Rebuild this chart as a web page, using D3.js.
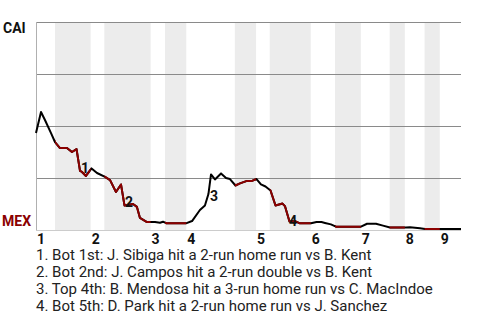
<!DOCTYPE html>
<html>
<head>
<meta charset="utf-8">
<script src="https://cdn.jsdelivr.net/npm/d3@7"></script>
<style>
  body { margin: 0; background: #fff; }
  svg { display: block; font-family: Roboto, "Noto Sans", sans-serif; }
</style>
</head>
<body>
<script>
const w = 480;
const h = 320;

// x = pitch count into the game, y = CAI win probability (%)
const pitchNo = [0, 3.3, 5.9, 9.9, 12.5, 15.8, 20.4, 23.7, 26.7, 29, 30.3, 32.9, 36.6, 40.2,
  45.5, 48.8, 52.7, 56, 58.3, 63.9, 66.5, 68.5, 73.1, 78.4, 81.7, 83.7, 86, 98.8,
  102.8, 108, 111.3, 113.6, 115.3, 117.9, 121.9, 125.2, 127.8, 131.4, 134.4, 139,
  142.3, 145.3, 148.2, 151.2, 154.5, 157.8, 162.4, 164, 167, 170.6, 173.9, 181.2,
  184.8, 188.1, 190.4, 194.3, 197.6, 214.1, 218.1, 224, 228.6, 233.2, 243.7, 246.4,
  253, 256.3, 266.8, 280];
const caiWinPct = [46.6, 56.7, 52.9, 46.6, 42.3, 39.4, 39.4, 37.5, 38.9, 28.4, 27.9, 26, 29.6, 27.4,
  25.5, 24, 18.3, 21.9, 11.8, 12.5, 11.1, 5.8, 3.8, 3.8, 3.5, 4.0, 3.2, 3.2,
  4.3, 9.6, 11.8, 17.3, 26.7, 24.3, 27.2, 25, 24.5, 21.4, 22.4, 23.6,
  23.6, 24.5, 21.9, 20.9, 19, 11.8, 12.7, 11.5, 4.1, 4.3, 3.2, 3.2,
  3.8, 3.8, 3.4, 2.7, 1.6, 1.6, 3.0, 3.0, 2.1, 1.2, 1.2, 1.3,
  0.8, 0.5, 0.5, 0.5];

// first pitch of each half inning (top 1st, bot 1st, top 2nd, ...)
const halfStarts = [0, 12.5, 36, 45, 75.5, 85, 99, 131, 145, 154, 181, 197, 214, 233, 243, 256, 266];
const gameEnd = 280;
const innings = ["1", "2", "3", "4", "5", "6", "7", "8", "9"];
const gridPct = [25, 50, 75, 100];

// key plays: label, position in chart units
const noteIds = ["1", "2", "3", "4"];
const notePitch = [29.6, 58.6, 114.6, 166.6];
const notePct = [27.4, 11.1, 13.9, 1.9];
const noteText = [
  "1. Bot 1st: J. Sibiga hit a 2-run home run vs B. Kent",
  "2. Bot 2nd: J. Campos hit a 2-run double vs B. Kent",
  "3. Top 4th: B. Mendosa hit a 3-run home run vs C. MacIndoe",
  "4. Bot 5th: D. Park hit a 2-run home run vs J. Sanchez"
];

const red = "#8b0000";
const plotL = 36, plotR = 461, plotT = 22, plotB = 230;

const svg = d3.select("body").append("svg").attr("width", w).attr("height", h);

const xScale = d3.scaleLinear().domain([0, gameEnd]).range([plotL, plotR]);
const yScale = d3.scaleLinear().domain([0, 100]).range([plotB, plotT]);

// bottom half innings (home team batting)
const bottomHalves = [];
for (let i = 1; i < halfStarts.length; i += 2) {
  bottomHalves.push([halfStarts[i], i + 1 < halfStarts.length ? halfStarts[i + 1] : gameEnd]);
}

svg.append("g")
  .selectAll("rect")
  .data(bottomHalves)
  .enter()
  .append("rect")
  .attr("x", (d) => xScale(d[0]))
  .attr("y", plotT)
  .attr("width", (d) => xScale(d[1]) - xScale(d[0]))
  .attr("height", plotB - plotT)
  .attr("fill", "#ececec");

svg.append("g")
  .selectAll("line")
  .data(gridPct)
  .enter()
  .append("line")
  .attr("x1", plotL)
  .attr("x2", plotR)
  .attr("y1", (d) => yScale(d) + 0.5)
  .attr("y2", (d) => yScale(d) + 0.5)
  .attr("stroke", "#8a8a8a")
  .attr("stroke-width", 1);

// left and bottom axis lines
svg.append("line")
  .attr("x1", plotL + 0.5).attr("x2", plotL + 0.5)
  .attr("y1", plotT).attr("y2", plotB)
  .attr("stroke", "#b0b0b0");
svg.append("line")
  .attr("x1", plotL).attr("x2", plotR)
  .attr("y1", plotB + 0.5).attr("y2", plotB + 0.5)
  .attr("stroke", "#cccccc");

svg.append("text")
  .attr("x", 3).attr("y", yScale(100) + 11)
  .attr("font-size", 14).attr("font-weight", "bold")
  .attr("fill", "#111")
  .text("CAI");
svg.append("text")
  .attr("x", 2).attr("y", yScale(0) - 4)
  .attr("font-size", 14).attr("font-weight", "bold")
  .attr("fill", red)
  .text("MEX");

// inning labels at start of each inning
svg.append("g")
  .selectAll("text")
  .data(innings)
  .enter()
  .append("text")
  .attr("x", (d, i) => xScale(halfStarts[i * 2]) + 1)
  .attr("y", plotB + 14)
  .attr("font-size", 14)
  .attr("font-weight", "bold")
  .attr("fill", "#111")
  .text((d) => d);

const points = pitchNo.map((t, i) => [t, caiWinPct[i]]);
const line = d3.line()
  .x((d) => xScale(d[0]))
  .y((d) => yScale(d[1]));

const clip = svg.append("clipPath").attr("id", "bot-clip");
clip.selectAll("rect")
  .data(bottomHalves)
  .enter()
  .append("rect")
  .attr("x", (d) => xScale(d[0]))
  .attr("y", 0)
  .attr("width", (d) => xScale(d[1]) - xScale(d[0]))
  .attr("height", h);

svg.append("path")
  .datum(points)
  .attr("d", line)
  .attr("fill", "none")
  .attr("stroke", "#000")
  .attr("stroke-width", 2)
  .attr("stroke-linejoin", "round");

svg.append("path")
  .datum(points)
  .attr("d", line)
  .attr("clip-path", "url(#bot-clip)")
  .attr("fill", "none")
  .attr("stroke", red)
  .attr("stroke-width", 2)
  .attr("stroke-linejoin", "round");

svg.append("g")
  .selectAll("text")
  .data(noteIds)
  .enter()
  .append("text")
  .attr("x", (d, i) => xScale(notePitch[i]))
  .attr("y", (d, i) => yScale(notePct[i]))
  .attr("font-size", 14)
  .attr("font-weight", "bold")
  .attr("fill", "#111")
  .text((d) => d);

svg.append("g")
  .selectAll("text")
  .data(noteText)
  .enter()
  .append("text")
  .attr("x", plotL)
  .attr("y", (d, i) => 259.5 + i * 17.3)
  .attr("font-size", 15)
  .attr("fill", "#222")
  .text((d) => d);
</script>
</body>
</html>
